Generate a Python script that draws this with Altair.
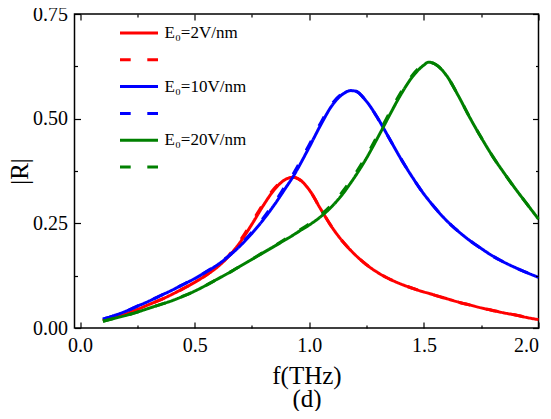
import altair as alt
import pandas as pd

# frequency grid (THz)
f = [0.10, 0.15, 0.20, 0.25, 0.30, 0.35, 0.40, 0.45, 0.50, 0.55, 0.60, 0.65,
     0.70, 0.75, 0.80, 0.85, 0.90, 0.93, 0.95, 1.00, 1.05, 1.10, 1.15, 1.18,
     1.20, 1.25, 1.30, 1.35, 1.40, 1.45, 1.50, 1.52, 1.55, 1.60, 1.65, 1.70,
     1.75, 1.80, 1.85, 1.90, 1.95, 2.00]

red_solid = [0.018, 0.026, 0.034, 0.044, 0.056, 0.067, 0.080, 0.094, 0.109, 0.126, 0.146, 0.172,
             0.206, 0.248, 0.293, 0.332, 0.356, 0.360, 0.357, 0.330, 0.284, 0.240, 0.204, 0.186,
             0.175, 0.151, 0.132, 0.117, 0.105, 0.095, 0.086, 0.083, 0.078, 0.070, 0.062, 0.055,
             0.048, 0.042, 0.036, 0.031, 0.025, 0.020]
red_dash = [0.018, 0.026, 0.034, 0.044, 0.056, 0.067, 0.080, 0.094, 0.109, 0.126, 0.147, 0.174,
            0.210, 0.253, 0.297, 0.335, 0.357, 0.360, 0.357, 0.330, 0.284, 0.240, 0.204, 0.186,
            0.175, 0.151, 0.132, 0.117, 0.105, 0.095, 0.086, 0.083, 0.078, 0.070, 0.062, 0.055,
            0.048, 0.042, 0.036, 0.031, 0.025, 0.020]
blue_solid = [0.021, 0.030, 0.040, 0.052, 0.064, 0.077, 0.090, 0.104, 0.118, 0.134, 0.151, 0.172,
              0.197, 0.226, 0.259, 0.296, 0.337, 0.362, 0.381, 0.432, 0.485, 0.532, 0.560, 0.567,
              0.566, 0.541, 0.500, 0.452, 0.404, 0.360, 0.320, 0.306, 0.286, 0.256, 0.231, 0.209,
              0.190, 0.172, 0.157, 0.144, 0.132, 0.121]
blue_dash = [0.021, 0.030, 0.040, 0.052, 0.064, 0.077, 0.090, 0.104, 0.118, 0.134, 0.152, 0.173,
             0.199, 0.229, 0.263, 0.301, 0.343, 0.368, 0.387, 0.438, 0.490, 0.536, 0.562, 0.567,
             0.566, 0.541, 0.500, 0.452, 0.404, 0.360, 0.320, 0.306, 0.286, 0.256, 0.231, 0.209,
             0.190, 0.172, 0.157, 0.144, 0.132, 0.121]
green_solid = [0.016, 0.023, 0.030, 0.038, 0.047, 0.056, 0.065, 0.076, 0.088, 0.102, 0.117, 0.132,
               0.148, 0.164, 0.180, 0.196, 0.212, 0.222, 0.229, 0.246, 0.266, 0.291, 0.323, 0.346,
               0.362, 0.406, 0.456, 0.508, 0.558, 0.600, 0.628, 0.635, 0.630, 0.602, 0.555, 0.503,
               0.455, 0.410, 0.370, 0.332, 0.296, 0.260]
green_dash = [0.016, 0.023, 0.030, 0.038, 0.047, 0.056, 0.065, 0.076, 0.088, 0.102, 0.117, 0.132,
              0.148, 0.164, 0.181, 0.197, 0.214, 0.224, 0.231, 0.249, 0.270, 0.296, 0.329, 0.352,
              0.368, 0.412, 0.462, 0.514, 0.563, 0.604, 0.630, 0.635, 0.630, 0.602, 0.555, 0.503,
              0.455, 0.410, 0.370, 0.332, 0.296, 0.260]

keys = ["r_s", "r_d", "b_s", "b_d", "g_s", "g_d"]
series = [red_solid, red_dash, blue_solid, blue_dash, green_solid, green_dash]
colors = ["#ff0000", "#ff0000", "#0000ff", "#0000ff", "#008000", "#008000"]
dashes = [[1, 0], [10.7, 16.6], [1, 0], [10.7, 16.6], [1, 0], [10.7, 16.6]]
x_ticks = [0, 0.5, 1.0, 1.5, 2.0]
x_minor = [0.25, 0.75, 1.25, 1.75]
y_ticks = [0, 0.25, 0.5, 0.75]
y_minor = [0.125, 0.375, 0.625]

rows = []
for k, vals in zip(keys, series):
    for fi, v in zip(f, vals):
        rows.append({"f": fi, "R": v, "s": k})
df = pd.DataFrame(rows)

FONT = "Liberation Serif"
xs = alt.Scale(domain=[-0.024, 2.0], nice=False, zero=False)
ys = alt.Scale(domain=[0, 0.75], nice=False, zero=False)

label_expr = ("datum.value == 'r_s' ? 'E\u2080=2V/nm' : datum.value == 'b_s' ? 'E\u2080=10V/nm' : "
              "datum.value == 'g_s' ? 'E\u2080=20V/nm' : ''")

leg = alt.Legend(orient="none", legendX=44, legendY=11, title=None, direction="vertical",
                 columns=1, symbolType="stroke", symbolSize=1444, symbolStrokeWidth=3,
                 clipHeight=16, rowPadding=9.8, labelFont=FONT, labelFontSize=17,
                 labelColor="black", labelOffset=5, labelExpr=label_expr, padding=0)

main = alt.Chart(df).mark_line(strokeWidth=3, interpolate="monotone").encode(
    x=alt.X("f:Q", scale=xs, axis=alt.Axis(
        orient="bottom", values=x_ticks, format=".1f", ticks=False, domain=False, grid=False,
        labelFont=FONT, labelFontSize=20, labelColor="black", labelPadding=7,
        title=["f(THz)", "(d)"], titleFont=FONT, titleFontSize=25, titleFontWeight="normal",
        titleColor="black", titlePadding=8, titleLineHeight=23)),
    y=alt.Y("R:Q", scale=ys, axis=alt.Axis(
        orient="left", values=y_ticks, format=".2f", ticks=False, domain=False, grid=False,
        labelFont=FONT, labelFontSize=20, labelColor="black", labelPadding=7,
        title="|R|", titleFont=FONT, titleFontSize=25, titleFontWeight="normal",
        titleColor="black", titlePadding=0)),
    color=alt.Color("s:N", scale=alt.Scale(domain=keys, range=colors), legend=leg),
    strokeDash=alt.StrokeDash("s:N", scale=alt.Scale(domain=keys, range=dashes), legend=leg),
)


def tick_axis(orient, values, size):
    return alt.Axis(orient=orient, values=values, labels=False, domain=False, grid=False,
                    ticks=True, tickSize=size, offset=-size, tickColor="black", tickWidth=1.2,
                    title=None, zindex=1)


def tick_layer(xo, xv, yo, yv, size):
    return alt.Chart(df).mark_point(opacity=0, size=1).encode(
        x=alt.X("f:Q", scale=xs, axis=tick_axis(xo, xv, size)),
        y=alt.Y("R:Q", scale=ys, axis=tick_axis(yo, yv, size)),
    )


layers = [
    main,
    tick_layer("bottom", x_ticks, "left", y_ticks, 6),
    tick_layer("bottom", x_minor, "left", y_minor, 3),
    tick_layer("top", x_ticks, "right", y_ticks, 6),
    tick_layer("top", x_minor, "right", y_minor, 3),
]

chart = alt.layer(*layers).resolve_axis(x="independent", y="independent").properties(
    width=464, height=314,
    autosize=alt.AutoSizeParams(type="none"),
    padding={"left": 66.5, "top": 6, "right": 4.5, "bottom": 83},
).configure_view(stroke="black", strokeWidth=1.5)

chart.save("out.html", embed_options={"renderer": "svg", "actions": False})
